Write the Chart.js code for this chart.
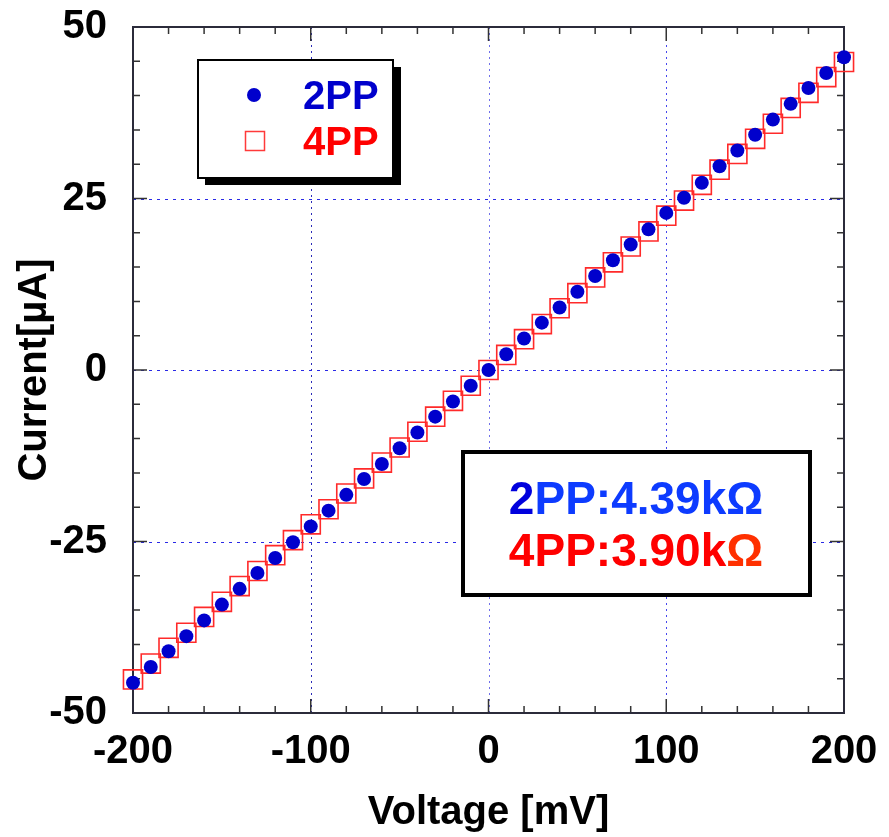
<!DOCTYPE html>
<html>
<head>
<meta charset="utf-8">
<script src="https://cdn.jsdelivr.net/npm/chart.js@4.4.1/dist/chart.umd.min.js"></script>
<style>
  html, body { margin: 0; padding: 0; background: #fff; }
  #wrap { width: 889px; height: 837px; }
</style>
</head>
<body>
<div id="wrap"><canvas id="ivChart" width="889" height="837"></canvas></div>
<script>
// data ------------------------------------------------------------

const voltage = [-200, -190, -180, -170, -160, -150, -140, -130, -120, -110,
  -100, -90, -80, -70, -60, -50, -40, -30, -20, -10, 0,
  10, 20, 30, 40, 50, 60, 70, 80, 90, 100,
  110, 120, 130, 140, 150, 160, 170, 180, 190, 200];

// 2PP current (uA)
const current2PP = [-45.6, -43.3, -41.0, -38.8, -36.5, -34.2, -31.9, -29.6, -27.4, -25.1,
  -22.8, -20.5, -18.2, -15.9, -13.7, -11.4, -9.1, -6.8, -4.6, -2.3, 0.0,
  2.3, 4.6, 6.9, 9.1, 11.4, 13.7, 16.0, 18.3, 20.5, 22.9,
  25.1, 27.3, 29.7, 32.0, 34.3, 36.5, 38.8, 41.1, 43.3, 45.6];

// 4PP current (uA)
const current4PP = [-45.1, -42.8, -40.5, -38.3, -36.0, -33.8, -31.5, -29.3, -27.0, -24.8,
  -22.5, -20.3, -18.0, -15.8, -13.5, -11.3, -9.0, -6.8, -4.5, -2.3, 0.0,
  2.2, 4.5, 6.7, 9.0, 11.2, 13.5, 15.7, 18.0, 20.2, 22.5,
  24.7, 27.0, 29.2, 31.5, 33.7, 35.9, 38.2, 40.4, 42.7, 44.9];

const xTicks = [-200, -100, 0, 100, 200];
const yTicks = [-50, -25, 0, 25, 50];
const seriesNames = ['2PP', '4PP'];
const resistLines = ['2PP:4.39k\u03A9', '4PP:3.90k\u03A9'];

const FONT = "'Liberation Sans', Arial, Helvetica, sans-serif";

function toPoints(xs, ys) {
  return xs.map((v, i) => ({ x: v, y: ys[i] }));
}

// frame, dotted grid and inward ticks ------------------------------

const framePlugin = {
  id: 'frame',
  beforeDatasetsDraw(chart) {
    const { ctx, chartArea: a, scales } = chart;
    const xs = scales.x, ys = scales.y;
    ctx.save();

    // dotted grid (inner lines only)
    ctx.lineWidth = 1;
    [-100, 0, 100].forEach(v => {
      const px = Math.round(xs.getPixelForValue(v)) + 0.5;
      ctx.strokeStyle = v === 0 ? '#7070ea' : (v < 0 ? '#2a2ab8' : '#4646ee');
      ctx.setLineDash([2, 4]);
      ctx.beginPath();
      ctx.moveTo(px, a.top);
      ctx.lineTo(px, a.bottom);
      ctx.stroke();
    });
    [-25, 0, 25].forEach(v => {
      const py = Math.round(ys.getPixelForValue(v)) + 0.5;
      ctx.strokeStyle = '#2a2ae6';
      ctx.setLineDash([3, 5]);
      ctx.beginPath();
      ctx.moveTo(a.left, py);
      ctx.lineTo(a.right, py);
      ctx.stroke();
    });
    ctx.setLineDash([]);

    // ticks pointing inside, on all four sides
    ctx.strokeStyle = '#333';
    ctx.lineWidth = 1.5;
    for (let v = -180; v <= 180; v += 20) {
      const px = xs.getPixelForValue(v);
      const len = (v % 100 === 0) ? 14 : 7;
      ctx.beginPath();
      ctx.moveTo(px, a.bottom); ctx.lineTo(px, a.bottom - len);
      ctx.moveTo(px, a.top); ctx.lineTo(px, a.top + len);
      ctx.stroke();
    }
    for (let v = -45; v <= 45; v += 5) {
      const py = ys.getPixelForValue(v);
      const len = (v % 25 === 0) ? 14 : 7;
      ctx.beginPath();
      ctx.moveTo(a.left, py); ctx.lineTo(a.left + len, py);
      ctx.moveTo(a.right, py); ctx.lineTo(a.right - len, py);
      ctx.stroke();
    }

    // frame
    ctx.strokeStyle = '#2b2b3a';
    ctx.lineWidth = 2;
    ctx.strokeRect(a.left, a.top, a.right - a.left, a.bottom - a.top);
    ctx.restore();
  }
};

// legend box and resistance box -----------------------------------

const boxesPlugin = {
  id: 'boxes',
  afterDraw(chart) {
    const { ctx } = chart;
    ctx.save();

    // legend with drop shadow
    ctx.fillStyle = '#000';
    ctx.fillRect(205, 67, 196, 118);
    ctx.fillStyle = '#fff';
    ctx.fillRect(198, 60, 195, 118);
    ctx.strokeStyle = '#000';
    ctx.lineWidth = 2;
    ctx.strokeRect(198, 60, 195, 118);

    ctx.fillStyle = '#0000cc';
    ctx.beginPath();
    ctx.arc(254, 95, 7, 0, Math.PI * 2);
    ctx.fill();
    ctx.strokeStyle = '#ff3a3a';
    ctx.lineWidth = 1.5;
    ctx.strokeRect(245.5, 131.5, 19, 19);

    ctx.font = 'bold 40px ' + FONT;
    ctx.textBaseline = 'middle';
    ctx.textAlign = 'left';
    ctx.fillStyle = '#0000cc';
    ctx.fillText(seriesNames[0], 303, 98);
    ctx.fillStyle = '#ff0000';
    ctx.fillText(seriesNames[1], 303, 144);

    // resistance box
    ctx.fillStyle = '#fff';
    ctx.fillRect(463, 452, 347, 143);
    ctx.strokeStyle = '#000';
    ctx.lineWidth = 4;
    ctx.strokeRect(463, 452, 347, 143);

    ctx.font = 'bold 46px ' + FONT;
    const drawParts = (parts, cx, cy) => {
      const total = parts.reduce((s, p) => s + ctx.measureText(p[0]).width, 0);
      let x = cx - total / 2;
      parts.forEach(p => {
        ctx.fillStyle = p[1];
        ctx.fillText(p[0], x, cy);
        x += ctx.measureText(p[0]).width;
      });
    };
    const l1 = resistLines[0], l2 = resistLines[1];
    drawParts([[l1.slice(0, 1), '#0000dd'], [l1.slice(1), '#0d3bff']], 636, 501);
    drawParts([[l2.slice(0, -1), '#ff0000'], [l2.slice(-1), '#ff3000']], 636, 553);

    ctx.restore();
  }
};

// chart --------------------------------------------------------------

const data = {
  datasets: [{
    label: seriesNames[0],
    data: toPoints(voltage, current2PP),
    pointStyle: 'circle',
    pointRadius: 7,
    pointBackgroundColor: '#0000cc',
    pointBorderWidth: 0,
    clip: false,
    order: 0
  }, {
    label: seriesNames[1],
    data: toPoints(voltage, current4PP),
    pointStyle: 'rect',
    pointRadius: 13.5,
    pointBackgroundColor: 'rgba(0,0,0,0)',
    pointBorderColor: '#ff2a2a',
    pointBorderWidth: 1.6,
    clip: false,
    order: 1
  }]
};

const config = {
  type: 'scatter',
  data,
  options: {
    responsive: false,
    animation: false,
    layout: { padding: { left: 0, right: 45, top: 27, bottom: 0 } },
    plugins: { legend: { display: false }, tooltip: { enabled: false } },
    scales: {
      x: {
        type: 'linear',
        min: -200, max: 200,
        afterBuildTicks: (s) => { s.ticks = xTicks.map(v => ({ value: v })); },
        afterFit: (s) => { s.height = 124; s.paddingLeft = 0; s.paddingRight = 0; },
        grid: { display: false },
        border: { display: false },
        ticks: { color: '#000', padding: 7, font: { family: FONT, size: 40, weight: 'bold' } },
        title: {
          display: true,
          text: 'Voltage [mV]',
          color: '#000',
          padding: { top: 0, bottom: 0 },
          font: { family: FONT, size: 40, weight: 'bold' }
        }
      },
      y: {
        type: 'linear',
        min: -50, max: 50,
        afterBuildTicks: (s) => { s.ticks = yTicks.map(v => ({ value: v })); },
        afterFit: (s) => { s.width = 133; s.paddingTop = 0; s.paddingBottom = 0; },
        grid: { display: false },
        border: { display: false },
        ticks: { color: '#000', padding: 18, font: { family: FONT, size: 40, weight: 'bold' } },
        title: {
          display: true,
          text: 'Current[\u00B5A]',
          color: '#000',
          padding: { top: 11, bottom: 11 },
          font: { family: FONT, size: 40, weight: 'bold' }
        }
      }
    }
  },
  plugins: [framePlugin, boxesPlugin]
};

const ivChart = new Chart(document.getElementById('ivChart'), config);
</script>
</body>
</html>
